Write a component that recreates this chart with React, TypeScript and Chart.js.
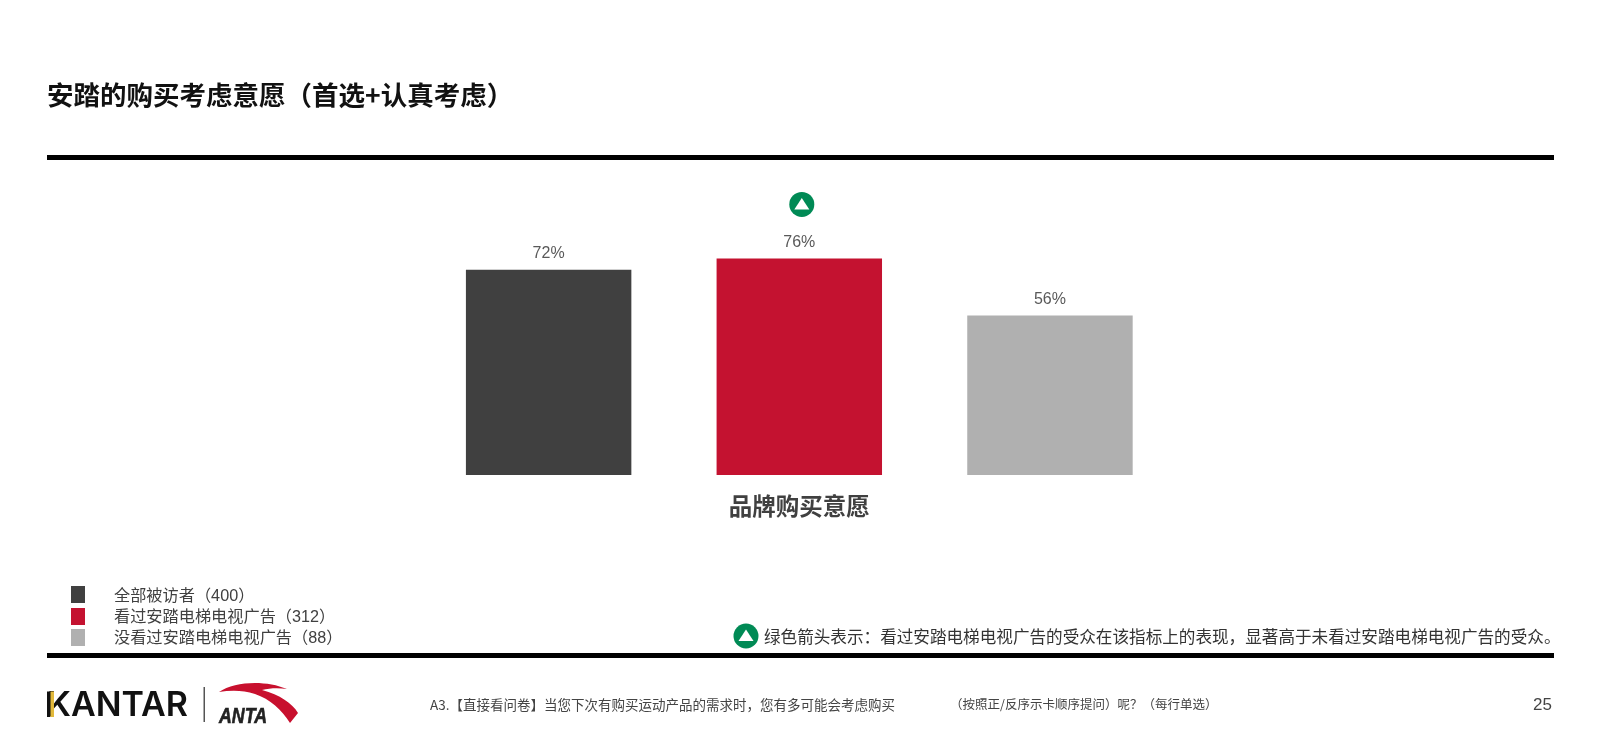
import React, { useEffect, useRef } from "react";
import { Chart, registerables } from "chart.js";

Chart.register(...registerables);

const CJK = '"Noto Sans CJK SC", "Liberation Sans", sans-serif';
const LATIN = '"Liberation Sans", "Noto Sans CJK SC", sans-serif';

const titleText = "安踏的购买考虑意愿（首选+认真考虑）";
const categories = ["品牌购买意愿"];
const seriesNames = ["全部被访者（400）", "看过安踏电梯电视广告（312）", "没看过安踏电梯电视广告（88）"];
const seriesValues = [72, 76, 56];
const seriesColors = ["#404040", "#C41230", "#B0B0B0"];
const significant = [false, true, false];
const noteText = "绿色箭头表示：看过安踏电梯电视广告的受众在该指标上的表现，显著高于未看过安踏电梯电视广告的受众。";
const questionA = "A3.【直接看问卷】当您下次有购买运动产品的需求时，您有多可能会考虑购买";
const questionB = "（按照正/反序示卡顺序提问）呢？（每行单选）";
const pageNumber = "25";
const GREEN = "#008A55";

const barLabels = {
  id: "barLabels",
  afterDatasetsDraw(chart: any) {
    const { ctx } = chart;
    chart.data.datasets.forEach((ds: any, i: number) => {
      const el = chart.getDatasetMeta(i).data[0];
      ctx.save();
      ctx.fillStyle = "#595959";
      ctx.font = `16px ${LATIN}`;
      ctx.textAlign = "center";
      ctx.textBaseline = "middle";
      ctx.fillText(`${ds.data[0]}%`, el.x, el.y - 16);
      if (significant[i]) {
        const cx = el.x + 2.5;
        const cy = el.y - 54;
        ctx.fillStyle = GREEN;
        ctx.beginPath();
        ctx.arc(cx, cy, 12.5, 0, Math.PI * 2);
        ctx.fill();
        ctx.fillStyle = "#fff";
        ctx.beginPath();
        ctx.moveTo(cx, cy - 6.5);
        ctx.lineTo(cx + 7.5, cy + 5);
        ctx.lineTo(cx - 7.5, cy + 5);
        ctx.closePath();
        ctx.fill();
      }
      ctx.restore();
    });
  },
};

const abs = (left: number, top: number, extra: any = {}): any => ({
  position: "absolute",
  left,
  top,
  whiteSpace: "nowrap",
  ...extra,
});

export default function App() {
  const ref = useRef<HTMLCanvasElement | null>(null);

  useEffect(() => {
    const chart = new Chart(ref.current as HTMLCanvasElement, {
      type: "bar",
      data: {
        labels: categories,
        datasets: seriesNames.map((name, i) => ({
          label: name,
          data: [seriesValues[i]],
          backgroundColor: seriesColors[i],
          borderWidth: 0,
          barPercentage: 0.66,
          categoryPercentage: 1,
        })),
      },
      options: {
        responsive: false,
        animation: false,
        layout: { padding: { left: 423.3, right: 424.7, top: 190, bottom: 218 } },
        plugins: { legend: { display: false }, tooltip: { enabled: false }, title: { display: false } },
        scales: {
          x: {
            grid: { display: false },
            border: { display: false },
            afterFit: (s: any) => { s.height = 60; },
            ticks: {
              color: "#404040",
              padding: 9,
              font: { family: CJK, size: 23.5, weight: "bold" },
            },
          },
          y: { display: false, min: 0, max: 100 },
        },
      },
      plugins: [barLabels],
    } as any);
    return () => chart.destroy();
  }, []);

  return (
    <div style={{ position: "absolute", left: 0, top: 0, width: 1600, height: 753, overflow: "hidden", background: "#fff", fontFamily: CJK }}>
      <canvas ref={ref} width={1600} height={753} style={{ position: "absolute", left: 0, top: 0 }} />

      <div style={abs(47, 76, { fontSize: 26.5, fontWeight: 700, color: "#111", lineHeight: "36px" })}>{titleText}</div>
      <div style={abs(47, 155, { width: 1507, height: 4.5, background: "#000" })} />
      <div style={abs(47, 653, { width: 1507, height: 4.5, background: "#000" })} />

      {seriesNames.map((name, i) => (
        <React.Fragment key={name}>
          <div style={abs(71, 586 + i * 21.5, { width: 13.5, height: 17, background: seriesColors[i] })} />
          <div style={abs(114, 584 + i * 21, { fontSize: 16.2, color: "#404040", lineHeight: "22px", fontFamily: LATIN })}>{name}</div>
        </React.Fragment>
      ))}

      <div style={abs(47, 685, { fontFamily: '"Inter", sans-serif', fontWeight: 600, fontSize: 34, lineHeight: "38px", color: "#111" })}>KANTAR</div>
      <svg width={1600} height={753} style={{ position: "absolute", left: 0, top: 0 }}>
        <circle cx={746} cy={636} r={12.5} fill={GREEN} />
        <polygon points="746,629.5 753.5,641 738.5,641" fill="#fff" />
        <rect x={47} y={691.5} width={3.5} height={25.5} fill="#111" />
        <rect x={50.5} y={691.5} width={3.5} height={25.5} fill="#E2B93B" />
        <rect x={203.5} y={687} width={1.5} height={35} fill="#555" />
        <path d="M219,692 C235,681 266,680 287,689 C279,688 270,688 262,690 C280,695 292,703 298,713 L290,723 C282,710 270,699 255,694 C243,690 231,690 219,692 Z" fill="#C8102E" />
        <text x={219} y={723} textLength={48} lengthAdjust="spacingAndGlyphs" fontFamily={LATIN} fontStyle="italic" fontWeight={700} fontSize={22} fill="#222" stroke="#222" strokeWidth={0.6}>ANTA</text>
      </svg>

      <div style={abs(764, 624, { fontSize: 16.6, color: "#333", lineHeight: "24px" })}>{noteText}</div>
      <div style={abs(430, 695, { fontSize: 13.5, color: "#444", lineHeight: "18px" })}>{questionA}</div>
      <div style={abs(950, 695, { fontSize: 12.5, color: "#444", lineHeight: "18px" })}>{questionB}</div>
      <div style={abs(1533, 695, { fontSize: 17, color: "#444", lineHeight: "20px", fontFamily: LATIN })}>{pageNumber}</div>
    </div>
  );
}
